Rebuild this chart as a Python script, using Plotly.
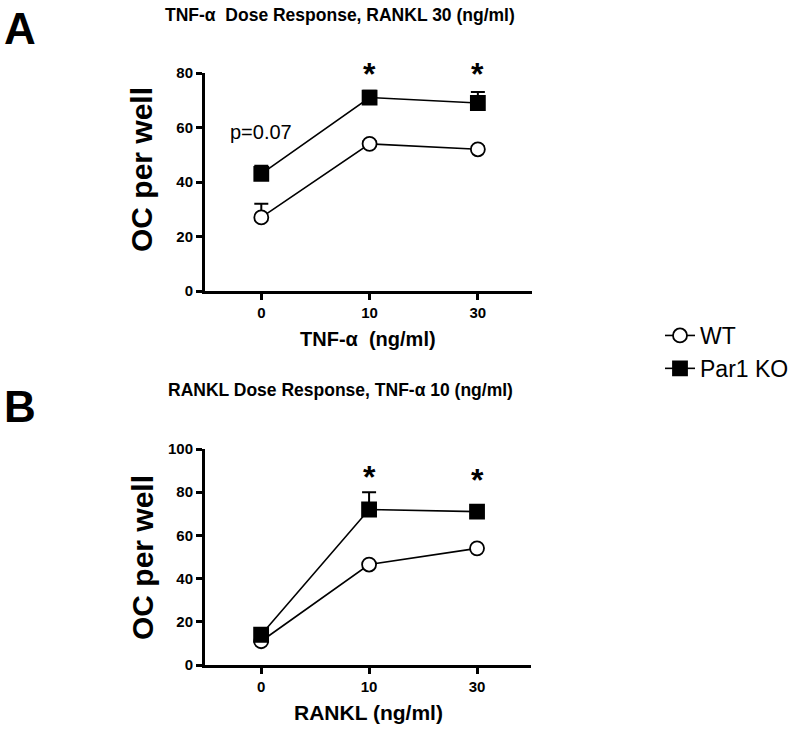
import plotly.graph_objects as go

doses = ["0", "10", "30"]
pos = [0, 1, 2]

a_wt = [27, 54, 52]
a_wt_err = [5, 1, 1]
a_ko = [43, 71, 69]
a_ko_err = [3, 2.5, 4]

b_wt = [11, 46.5, 54]
b_wt_err = [1, 1, 1]
b_ko = [14, 72, 71]
b_ko_err = [2, 8, 1]

FONT = "Liberation Sans, Arial, sans-serif"
W, H = 800, 729

fig = go.Figure()

def add(x, y, err, name, symbol, xa, ya, show):
    fig.add_trace(go.Scatter(
        x=x, y=y, name=name, mode="lines+markers",
        xaxis=xa, yaxis=ya, showlegend=show,
        line=dict(color="black", width=1.6),
        marker=dict(symbol=symbol, size=14, color="black" if symbol == "square" else "white",
                    line=dict(color="black", width=1.8)),
        error_y=dict(type="data", symmetric=False, array=err, arrayminus=[0]*len(err),
                     color="black", thickness=2, width=7),
        cliponaxis=False,
    ))

add(pos, a_wt, a_wt_err, "WT", "circle", "x", "y", True)
add(pos, a_ko, a_ko_err, "Par1 KO", "square", "x", "y", True)
add(pos, b_wt, b_wt_err, "WT", "circle", "x2", "y2", False)
add(pos, b_ko, b_ko_err, "Par1 KO", "square", "x2", "y2", False)

axcommon = dict(showline=True, linecolor="black", linewidth=3, ticks="outside",
                tickwidth=3, ticklen=6, tickcolor="black", showgrid=False, zeroline=False,
                automargin=False,
                tickfont=dict(family=FONT, size=15, color="black", weight="bold"))

def px_x(p):
    return p / W

def px_y(p):
    return 1 - p / H

fig.update_layout(
    template="none",
    width=W, height=H, margin=dict(l=0, r=0, t=0, b=0, pad=0), autosize=False,
    plot_bgcolor="white", paper_bgcolor="white",
    font=dict(family=FONT, color="black"),
    xaxis=dict(domain=[px_x(205), px_x(532)], range=[-0.52, 2.5], tickvals=pos, ticktext=doses,
               anchor="y", **axcommon),
    yaxis=dict(domain=[px_y(291), px_y(73)], range=[0, 80], tickvals=[0, 20, 40, 60, 80],
               anchor="x", **axcommon),
    xaxis2=dict(domain=[px_x(205), px_x(531)], range=[-0.52, 2.5], tickvals=pos, ticktext=doses,
                anchor="y2", **axcommon),
    yaxis2=dict(domain=[px_y(665), px_y(449)], range=[0, 100], tickvals=[0, 20, 40, 60, 80, 100],
                anchor="x2", **axcommon),
    legend=dict(x=px_x(660), y=px_y(314), xanchor="left", yanchor="top",
                font=dict(family=FONT, size=23, color="black"), itemwidth=30,
                bgcolor="rgba(0,0,0,0)"),
)

ann = []
def text(x, y, s, size, bold=True, xref="paper", yref="paper", textangle=0, xanchor="center"):
    ann.append(dict(x=x, y=y, xref=xref, yref=yref, text=s, showarrow=False,
                    textangle=textangle, xanchor=xanchor, yanchor="middle",
                    font=dict(family=FONT, size=size, color="black",
                              weight="bold" if bold else "normal")))

# Panel letters
text(px_x(20), px_y(29), "A", 44)
text(px_x(20), px_y(406), "B", 44)
# Titles
text(px_x(340), px_y(15), "TNF-α  Dose Response, RANKL 30 (ng/ml)", 17.5)
text(px_x(340), px_y(390), "RANKL Dose Response, TNF-α 10 (ng/ml)", 17.5)
# Axis titles
text(px_x(142), px_y(170), "OC per well", 30, textangle=-90)
text(px_x(142), px_y(558), "OC per well", 30, textangle=-90)
text(px_x(368), px_y(339), "TNF-α  (ng/ml)", 20)
text(px_x(368), px_y(712), "RANKL (ng/ml)", 21)
# p-value
text(0, 58.5, "p=0.07", 20, bold=False, xref="x", yref="y")
# stars (panel A above plot top -> paper coordinates)
for xi in [1, 2]:
    ann.append(dict(x=xi, y=px_y(74), xref="x", yref="paper", text="*", showarrow=False,
                    yanchor="middle", font=dict(family=FONT, size=32, color="black", weight="bold")))
for xi, yv in [(1, 87), (2, 85.5)]:
    ann.append(dict(x=xi, y=yv, xref="x2", yref="y2", text="*", showarrow=False,
                    yanchor="middle", font=dict(family=FONT, size=32, color="black", weight="bold")))

fig.update_layout(annotations=ann)
fig.write_html("out.html", config={"displayModeBar": False},
               post_script="document.body.style.margin='0px';")
